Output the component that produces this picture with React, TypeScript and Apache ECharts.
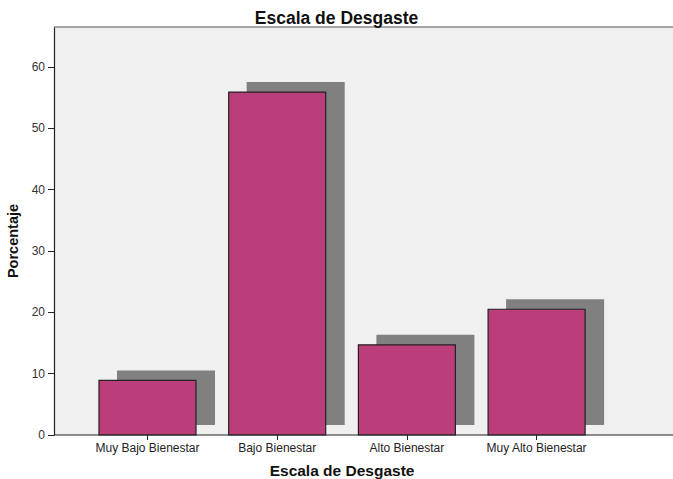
import React, { useEffect, useRef } from "react";
import * as echarts from "echarts";

const categories = ["Muy Bajo Bienestar", "Bajo Bienestar", "Alto Bienestar", "Muy Alto Bienestar"];
const percentages = [8.9, 55.9, 14.7, 20.5];
const yTicks = { min: 0, max: 66.5, interval: 10 };
const chartTitle = "Escala de Desgaste";
const xTitle = "Escala de Desgaste";
const yTitle = "Porcentaje";

const W = 673;
const H = 479;
const PLOT_LEFT = 54;
const PLOT_TOP = 27;
const PLOT_BOTTOM = 435;
const GRID_LEFT = 82.65;
const GRID_WIDTH = 518.8;
const FONT = "Liberation Sans, Arial, sans-serif";

export default function App() {
  const ref = useRef<HTMLDivElement>(null);
  useEffect(() => {
    if (!ref.current) return;
    const chart = echarts.init(ref.current, null, { renderer: "svg" });
    const data = percentages.map((v, i) => [i, v]);
    chart.setOption({
      animation: false,
      backgroundColor: "#ffffff",
      textStyle: { fontFamily: FONT },
      title: {
        text: chartTitle,
        left: "center",
        top: 4,
        textStyle: { fontSize: 17.5, fontWeight: "bold", color: "#111", fontFamily: FONT },
      },
      graphic: [
        {
          type: "rect",
          z: -10,
          silent: true,
          shape: { x: PLOT_LEFT, y: PLOT_TOP, width: W - PLOT_LEFT, height: PLOT_BOTTOM - PLOT_TOP },
          style: { fill: "#f0f0f0" },
        },
        {
          type: "line",
          z: 1,
          silent: true,
          shape: { x1: PLOT_LEFT, y1: PLOT_TOP, x2: W, y2: PLOT_TOP },
          style: { stroke: "#8a8a8a", lineWidth: 1.5 },
        },
        {
          type: "line",
          z: 100,
          silent: true,
          shape: { x1: PLOT_LEFT, y1: PLOT_BOTTOM, x2: W, y2: PLOT_BOTTOM },
          style: { stroke: "#222", lineWidth: 1.2 },
        },
      ],
      grid: {
        left: GRID_LEFT,
        width: GRID_WIDTH,
        top: PLOT_TOP,
        height: PLOT_BOTTOM - PLOT_TOP,
        containLabel: false,
        outerBoundsMode: "none",
      },
      xAxis: {
        type: "category",
        data: categories,
        name: xTitle,
        nameLocation: "middle",
        nameGap: 27,
        nameTextStyle: { fontSize: 15.5, fontWeight: "bold", color: "#111", fontFamily: FONT },
        axisLine: { show: false },
        axisTick: { show: true, alignWithLabel: true, length: 5, lineStyle: { color: "#222" } },
        axisLabel: { interval: 0, fontSize: 12, color: "#222", margin: 7, fontFamily: FONT },
        splitLine: { show: false },
      },
      yAxis: {
        type: "value",
        min: yTicks.min,
        max: yTicks.max,
        interval: yTicks.interval,
        offset: GRID_LEFT - PLOT_LEFT,
        name: yTitle,
        nameLocation: "middle",
        nameGap: 33,
        nameRotate: 90,
        nameTextStyle: { fontSize: 14.5, fontWeight: "bold", color: "#111", fontFamily: FONT, padding: [0, 20, 0, 0] },
        axisLine: { show: true, lineStyle: { color: "#222", width: 1.2 } },
        axisTick: { show: true, length: 6, lineStyle: { color: "#222" } },
        axisLabel: {
          fontSize: 12,
          color: "#333",
          margin: 9,
          fontFamily: FONT,
          showMaxLabel: false,
          formatter: (v: number) => (v % 10 === 0 ? String(v) : ""),
        },
        splitLine: { show: false },
      },
      series: [
        {
          type: "custom",
          data,
          encode: { x: 0, y: 1 },
          renderItem: (params: any, api: any) => {
            const idx = api.value(0);
            const v = api.value(1);
            const top = api.coord([idx, v]);
            const base = api.coord([idx, 0]);
            const band = api.size([1, 0])[0];
            const w = band * 0.748;
            const x = top[0] - w / 2;
            const h = base[1] - top[1];
            return {
              type: "group",
              children: [
                {
                  type: "rect",
                  shape: { x: x + 18, y: top[1] - 10, width: w + 1, height: h },
                  style: { fill: "#808080" },
                },
                {
                  type: "rect",
                  shape: { x, y: top[1], width: w, height: h },
                  style: { fill: "#ba3e7a", stroke: "#222", lineWidth: 1.2 },
                },
              ],
            };
          },
        },
      ],
    });
    return () => chart.dispose();
  }, []);
  return (
    <div
      ref={ref}
      style={{ position: "fixed", left: 0, top: 0, width: W, height: H }}
    />
  );
}
